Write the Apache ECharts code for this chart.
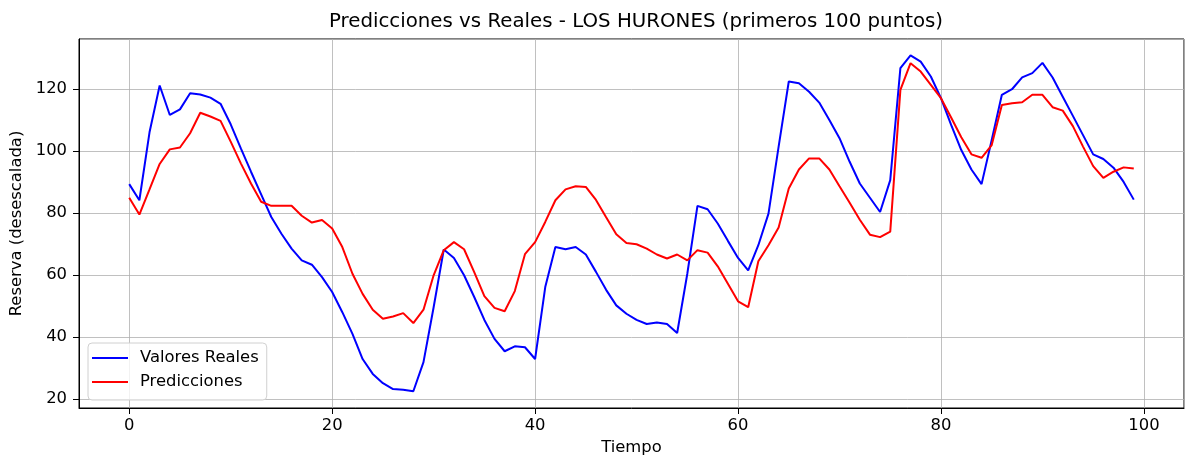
<!DOCTYPE html>
<html>
<head>
<meta charset="utf-8">
<script src="https://cdn.jsdelivr.net/npm/echarts@6/dist/echarts.min.js"></script>
<style>
  html, body { margin: 0; padding: 0; background: #fff; }
  #chart { width: 1186px; height: 461px; }
</style>
</head>
<body>
<div id="chart"></div>
<script>
// valores (indices 0..99)
var reales = [
  89.3, 84.1, 106.0, 121.1, 111.6, 113.4, 118.6, 118.2, 117.2, 115.2,
  108.6, 100.8, 93.3, 86.0, 78.7, 73.3, 68.5, 64.7, 63.3, 59.3,
  54.5, 48.0, 41.0, 32.9, 28.1, 25.1, 23.2, 23.0, 22.5, 31.9,
  49.6, 68.2, 65.5, 59.9, 52.9, 45.5, 39.4, 35.4, 37.0, 36.7,
  32.9, 56.1, 69.0, 68.3, 69.0, 66.6, 61.0, 55.2, 50.2, 47.5,
  45.5, 44.2, 44.7, 44.2, 41.3, 60.4, 82.3, 81.2, 76.6, 71.0,
  65.5, 61.5, 69.6, 79.8, 101.4, 122.4, 121.8, 119.1, 115.6, 110.0,
  104.1, 96.5, 89.5, 84.9, 80.3, 90.6, 126.7, 130.8, 128.8, 124.0,
  117.0, 108.4, 100.3, 94.0, 89.3, 103.5, 118.1, 119.9, 123.7, 125.1,
  128.4, 123.7, 117.5, 111.3, 105.1, 98.9, 97.4, 94.6, 90.0, 84.3
];
var predicciones = [
  84.9, 79.5, 87.6, 95.8, 100.5, 101.1, 105.7, 112.3, 111.1, 109.7,
  103.0, 96.0, 89.5, 83.6, 82.3, 82.3, 82.3, 79.1, 76.9, 77.7,
  75.0, 69.0, 60.4, 53.9, 48.8, 45.9, 46.6, 47.7, 44.5, 48.8,
  59.9, 68.0, 70.6, 68.3, 60.9, 53.2, 49.4, 48.3, 54.8, 66.7,
  70.6, 77.1, 84.1, 87.6, 88.6, 88.4, 84.2, 78.6, 73.1, 70.3,
  69.9, 68.5, 66.6, 65.3, 66.6, 64.7, 68.0, 67.2, 62.8, 57.2,
  51.5, 49.6, 64.4, 69.6, 75.3, 87.9, 94.0, 97.6, 97.6, 94.0,
  88.6, 83.3, 77.8, 73.0, 72.2, 74.0, 119.7, 128.3, 125.6, 121.3,
  117.0, 110.8, 104.4, 98.9, 97.8, 101.9, 114.8, 115.4, 115.7, 118.1,
  118.1, 114.1, 113.0, 108.0, 101.4, 95.1, 91.3, 93.3, 94.7, 94.3
];
var xTicks = [0, 20, 40, 60, 80, 100];
var yTicks = [20, 40, 60, 80, 100, 120];

var font = 'DejaVu Sans';
var fs = 16.4;
var lineIcon = 'path://M0,0 L36,0 L36,2 L0,2 Z';

function pares(arr) {
  return arr.map(function (v, i) { return [i, v]; });
}

var chart = echarts.init(document.getElementById('chart'));
chart.setOption({
  animation: false,
  title: {
    text: 'Predicciones vs Reales - LOS HURONES (primeros 100 puntos)',
    left: 631,
    textAlign: 'center',
    top: 7,
    textStyle: { fontFamily: font, fontSize: 19.8, fontWeight: 'normal', color: '#000' }
  },
  grid: {
    left: 79, right: 2, top: 39, bottom: 53,
    show: true, borderColor: '#000', borderWidth: 1, backgroundColor: 'transparent'
  },
  legend: {
    orient: 'vertical',
    left: 88,
    top: 343,
    itemWidth: 36,
    itemHeight: 16,
    itemGap: 8,
    padding: [7, 8, 10, 4],
    backgroundColor: 'rgba(255,255,255,0.8)',
    borderColor: '#d0d0d0',
    borderWidth: 1,
    borderRadius: 4,
    textStyle: { fontFamily: font, fontSize: fs, color: '#000', padding: [0, 0, 0, 7] },
    data: [
      { name: 'Valores Reales', icon: lineIcon },
      { name: 'Predicciones', icon: lineIcon }
    ]
  },
  xAxis: {
    type: 'value',
    min: -4.95,
    max: 103.95,
    splitNumber: 5,
    name: 'Tiempo',
    nameLocation: 'middle',
    nameGap: 32,
    nameTextStyle: { fontFamily: font, fontSize: fs, color: '#000' },
    axisLine: { onZero: false, lineStyle: { color: '#000', width: 1 } },
    axisTick: { show: true, length: 6, lineStyle: { color: '#000' } },
    axisLabel: {
      fontFamily: font, fontSize: fs, color: '#000', margin: 10,
      showMinLabel: false, showMaxLabel: false,
      formatter: function (v) { return xTicks.indexOf(v) >= 0 ? String(v) : ''; }
    },
    splitLine: { show: true, lineStyle: { color: '#b0b0b0', width: 0.8 } }
  },
  yAxis: {
    type: 'value',
    min: 17.1,
    max: 136.1,
    splitNumber: 6,
    name: 'Reserva (desescalada)',
    nameLocation: 'middle',
    nameGap: 50,
    nameTextStyle: { fontFamily: font, fontSize: fs, color: '#000' },
    axisLine: { show: true, onZero: false, lineStyle: { color: '#000', width: 1 } },
    axisTick: { show: true, length: 6, lineStyle: { color: '#000' } },
    axisLabel: {
      fontFamily: font, fontSize: fs, color: '#000', margin: 12,
      showMinLabel: false, showMaxLabel: false,
      formatter: function (v) { return yTicks.indexOf(v) >= 0 ? String(v) : ''; }
    },
    splitLine: { show: true, lineStyle: { color: '#b0b0b0', width: 0.8 } }
  },
  series: [
    {
      name: 'Valores Reales',
      type: 'line',
      data: pares(reales),
      symbol: 'none',
      color: '#0000ff',
      lineStyle: { color: '#0000ff', width: 2 }
    },
    {
      name: 'Predicciones',
      type: 'line',
      data: pares(predicciones),
      symbol: 'none',
      color: '#ff0000',
      lineStyle: { color: '#ff0000', width: 2 }
    }
  ]
});
</script>
</body>
</html>
